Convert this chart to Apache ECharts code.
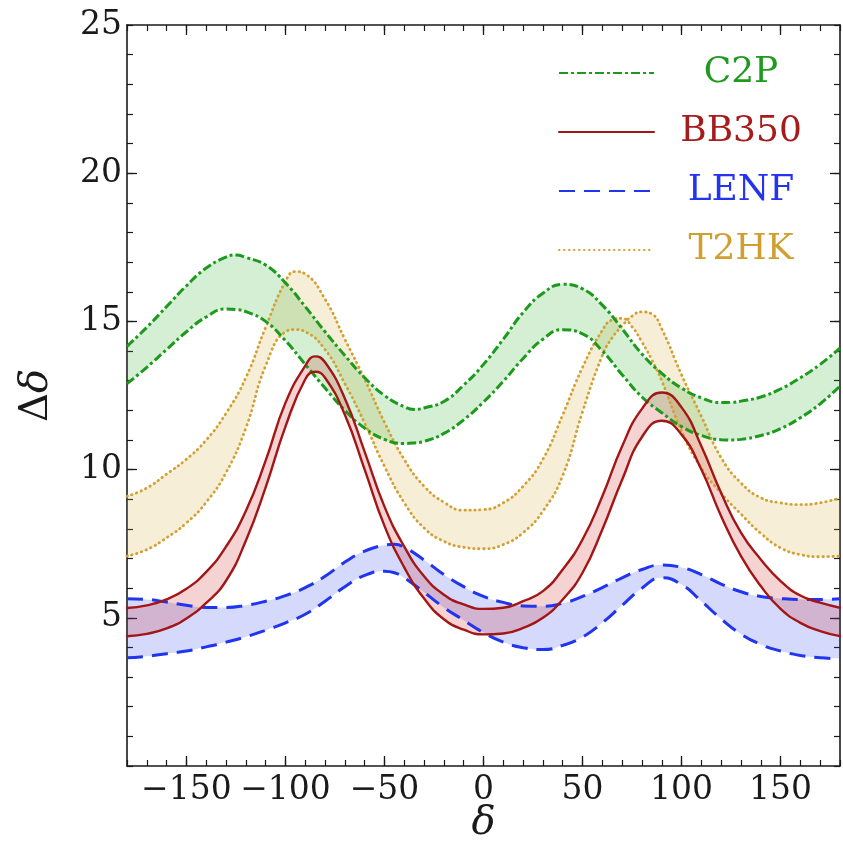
<!DOCTYPE html>
<html>
<head>
<meta charset="utf-8">
<script src="https://cdn.jsdelivr.net/npm/echarts@6/dist/echarts.min.js"></script>
<style>
html, body { margin: 0; padding: 0; background: #fff; }
#chart { width: 843px; height: 852px; }
</style>
</head>
<body>
<div id="chart"></div>
<script>
// delta samples (degrees), one list per band
var xC2P = [-180, -170, -160, -150, -140, -130, -125, -120, -110, -100, -90, -80, -70, -60, -50, -40, -35, -30, -20, -10,
	0, 10, 20, 30, 40, 50, 60, 70, 80, 90, 100, 110, 120, 125, 130, 140, 150, 160, 170, 180];
var xBB = [-180, -170, -160, -150, -140, -130, -120, -110, -100, -90, -85, -80, -70, -60, -50, -40, -30, -20, -10,
	0, 10, 20, 30, 40, 50, 60, 70, 80, 90, 100, 110, 120, 130, 140, 150, 160, 170, 180];
var xLENF = [-180, -170, -160, -150, -140, -130, -120, -110, -100, -90, -80, -70, -60, -50, -45, -40, -30, -20, -10,
	0, 10, 20, 30, 40, 50, 60, 70, 80, 90, 100, 110, 120, 130, 140, 150, 160, 170, 180];
var xT2 = [-180, -170, -160, -150, -140, -130, -120, -110, -100, -95, -90, -80, -70, -60, -50, -40, -30, -20, -10,
	0, 10, 20, 30, 40, 50, 60, 65, 70, 75, 80, 85, 90, 100, 110, 120, 130, 140, 150, 160, 170, 180];

// C2P band
var c2pHigh = [14.16, 14.8, 15.5, 16.2, 16.8, 17.17, 17.24, 17.16, 16.9, 16.3, 15.5, 14.65, 13.85, 13.1, 12.5, 12.12, 12.03, 12.08, 12.3, 12.85,
	13.55, 14.4, 15.3, 15.95, 16.25, 16.1, 15.55, 14.75, 13.9, 13.25, 12.75, 12.42, 12.26, 12.27, 12.31, 12.45, 12.72, 13.1, 13.55, 14.1];
var c2pLow = [12.9, 13.45, 14.05, 14.65, 15.15, 15.42, 15.4, 15.33, 15.0, 14.35, 13.55, 12.75, 12.0, 11.4, 11.02, 10.88, 10.9, 10.95, 11.22, 11.68,
	12.28, 12.98, 13.75, 14.4, 14.72, 14.58, 14.0, 13.2, 12.45, 11.92, 11.45, 11.15, 11.01, 11.0, 11.02, 11.15, 11.38, 11.75, 12.22, 12.82];

// BB350 band
var bbHigh = [5.33, 5.42, 5.62, 5.98, 6.55, 7.4, 8.6, 10.3, 12.25, 13.5, 13.82, 13.62, 12.4, 10.6, 8.75, 7.4, 6.4, 5.78, 5.45,
	5.3, 5.34, 5.56, 5.9, 6.63, 7.64, 9.1, 10.79, 12.05, 12.6, 12.1, 10.79, 9.21, 7.87, 6.97, 6.24, 5.75, 5.51, 5.34];
var bbLow = [4.38, 4.46, 4.64, 4.98, 5.5, 6.25, 7.6, 9.4, 11.45, 13.05, 13.3, 13.1, 11.85, 10.0, 8.1, 6.7, 5.65, 4.95, 4.6,
	4.44, 4.47, 4.66, 5.0, 5.62, 6.52, 7.98, 9.66, 11.1, 11.65, 11.18, 10.0, 8.43, 7.08, 6.07, 5.3, 4.83, 4.55, 4.38];

// LENF band
var lenfHigh = [5.64, 5.62, 5.53, 5.42, 5.35, 5.35, 5.42, 5.56, 5.75, 6.02, 6.4, 6.88, 7.25, 7.45, 7.48, 7.38, 6.95, 6.46, 6.05,
	5.72, 5.52, 5.4, 5.39, 5.49, 5.72, 6.02, 6.35, 6.63, 6.78, 6.7, 6.46, 6.14, 5.88, 5.72, 5.65, 5.62, 5.62, 5.64];
var lenfLow = [3.65, 3.7, 3.79, 3.88, 4.02, 4.18, 4.36, 4.58, 4.83, 5.12, 5.56, 6.05, 6.43, 6.57, 6.52, 6.35, 5.86, 5.35, 4.92,
	4.5, 4.18, 3.99, 3.93, 4.07, 4.35, 4.83, 5.42, 6.0, 6.35, 6.12, 5.56, 4.96, 4.45, 4.1, 3.88, 3.73, 3.65, 3.62];

// T2HK band (the two edges cross near delta = 73)
var t2hkA = [9.1, 9.38, 9.85, 10.35, 11.0, 11.9, 13.1, 14.8, 16.35, 16.68, 16.6, 15.75, 14.4, 13.05, 11.6, 10.34, 9.44, 8.9, 8.63,
	8.65, 8.88, 9.44, 10.35, 11.85, 13.45, 14.7, 15.05, 15.1, 14.82, 14.3, 13.7, 13.0, 11.3, 10.05, 9.2, 8.5, 7.85, 7.36, 7.13, 7.06, 7.08];
var t2hkB = [7.08, 7.3, 7.7, 8.2, 8.9, 9.9, 11.4, 13.5, 14.65, 14.72, 14.65, 14.05, 12.9, 11.57, 10.11, 8.88, 8.03, 7.58, 7.38,
	7.33, 7.47, 7.87, 8.6, 9.8, 11.95, 13.85, 14.45, 14.85, 15.18, 15.32, 15.25, 14.75, 13.2, 11.8, 10.4, 9.55, 9.05, 8.88, 8.82, 8.88, 9.04];

var xMajor = [-150, -100, -50, 0, 50, 100, 150];
var yMajor = [5, 10, 15, 20];

var serif = 'DejaVu Serif';
var ink = '#1a1a1a';

// base edge + stacked difference, so the fill sits between the two edges
function band(name, xs, lo, hi, color, fill, dash, width, cap) {
	var line = { color: color, width: width, type: dash, cap: cap };
	var common = {
		type: 'line',
		stack: name,
		stackStrategy: 'all',
		encode: { x: 1, y: 0 },
		symbol: 'none',
		smooth: 0.5,
		silent: true,
		animation: false,
		itemStyle: { color: color },
		lineStyle: line
	};
	var base = Object.assign({}, common, {
		name: name,
		data: xs.map(function(x, i) { return [lo[i], x]; })
	});
	var top = Object.assign({}, common, {
		name: name + ' edge',
		data: xs.map(function(x, i) { return [hi[i] - lo[i], x]; }),
		areaStyle: { color: fill, opacity: 1 }
	});
	return [base, top];
}

function tickLabel(v) {
	if (v < 0) return '\u2212' + Math.abs(v);
	return String(v);
}

function axisPair(kind, pos, major, withLabels) {
	var minor = {
		type: 'value',
		position: pos,
		min: kind === 'x' ? -180 : 0,
		max: kind === 'x' ? 180 : 25,
		interval: kind === 'x' ? 10 : 1,
		axisLine: { show: true, onZero: false, lineStyle: { color: ink, width: 1.6 } },
		axisTick: { show: true, inside: true, length: 6, lineStyle: { color: ink, width: 1.2 } },
		axisLabel: { show: false },
		splitLine: { show: false }
	};
	if (withLabels) {
		minor.axisLabel = {
			show: true,
			fontFamily: serif,
			fontSize: 33,
			color: ink,
			margin: kind === 'x' ? 8 : 5,
			formatter: function(v) {
				if (kind === 'x') return (v % 50 === 0) ? tickLabel(v) : '';
				return (v % 5 === 0 && v > 0) ? tickLabel(v) : '';
			}
		};
	}
	var big = {
		type: 'value',
		position: pos,
		min: minor.min,
		max: minor.max,
		axisLine: { show: false, onZero: false },
		axisTick: { show: true, inside: true, length: 10, customValues: major, lineStyle: { color: ink, width: 1.3 } },
		axisLabel: { show: false },
		splitLine: { show: false }
	};
	return [minor, big];
}

var xAxes = axisPair('x', 'bottom', xMajor, true).concat(axisPair('x', 'top', xMajor, false));
var yAxes = axisPair('y', 'left', yMajor, true).concat(axisPair('y', 'right', yMajor, false));

xAxes[0].name = '{b|δ}';
xAxes[0].nameLocation = 'middle';
xAxes[0].nameGap = 38;
xAxes[0].nameMoveOverlap = false;
xAxes[0].nameTextStyle = {
	rich: { b: { fontFamily: serif, fontStyle: 'italic', fontSize: 40, color: ink } }
};
yAxes[0].name = '{a|Δ}{b|δ}';
yAxes[0].nameLocation = 'middle';
yAxes[0].nameGap = 70;
yAxes[0].nameTextStyle = {
	rich: {
		a: { fontFamily: serif, fontSize: 40, color: ink },
		b: { fontFamily: serif, fontStyle: 'italic', fontSize: 40, color: ink }
	}
};

var names = ['C2P', 'BB350', 'LENF', 'T2HK'];
var legendKey = { 'C2P': 'c', 'BB350': 'b', 'LENF': 'l', 'T2HK': 't' };
var legendText = function(color) {
	return { fontFamily: serif, fontSize: 36, lineHeight: 40, color: color, width: 164, align: 'center' };
};

var series = []
	.concat(band('T2HK', xT2, t2hkB, t2hkA, '#d3a032', 'rgba(214,168,60,0.2)', [0.5, 4.5], 2.8, 'round'))
	.concat(band('C2P', xC2P, c2pLow, c2pHigh, '#1c9a1c', 'rgba(40,175,40,0.2)', [9, 3, 3, 3], 3, 'butt'))
	.concat(band('LENF', xLENF, lenfLow, lenfHigh, '#2035f0', 'rgba(45,65,240,0.2)', [16, 9], 3, 'butt'))
	.concat(band('BB350', xBB, bbLow, bbHigh, '#a31616', 'rgba(205,35,35,0.2)', 'solid', 2.4, 'round'));

var chart = echarts.init(document.getElementById('chart'), null, { renderer: 'canvas' });
chart.setOption({
	animation: false,
	backgroundColor: '#fff',
	grid: { left: 127, top: 25, width: 717, height: 741 },
	xAxis: xAxes,
	yAxis: yAxes,
	legend: {
		data: names,
		orient: 'vertical',
		left: 553,
		top: 50,
		itemWidth: 95,
		itemHeight: 14,
		itemGap: 23,
		selectedMode: false,
		itemStyle: { opacity: 0 },
		formatter: function(name) { return '{' + legendKey[name] + '|' + name + '}'; },
		textStyle: {
			rich: {
				c: legendText('#1f9a1f'),
				b: legendText('#a51c1c'),
				l: legendText('#2433f0'),
				t: legendText('#cf9f2f')
			}
		}
	},
	series: series
});
</script>
</body>
</html>
